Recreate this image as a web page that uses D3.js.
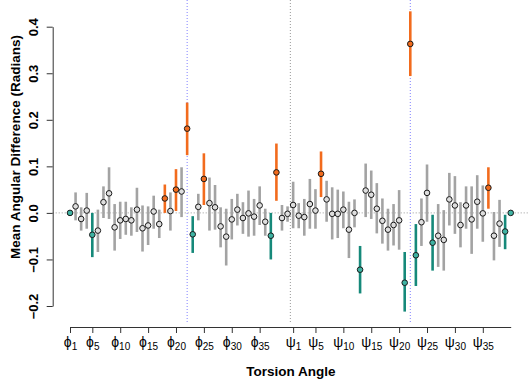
<!DOCTYPE html>
<html>
<head>
<meta charset="utf-8">
<script src="https://cdn.jsdelivr.net/npm/d3@7"></script>
<style>
  body { margin: 0; background: #fff; }
  svg text { font-family: "Liberation Sans", Arial, sans-serif; }
</style>
</head>
<body>
<svg id="chart" width="529" height="379"></svg>
<script>
// phi 1..40 then psi 1..40
const meanDiff = [
  0, 0.014, -0.013, 0.005, -0.047, -0.038, 0.023, 0.042, -0.031, -0.016,
  -0.013, -0.016, 0.007, -0.033, -0.027, 0.003, -0.024, 0.031, 0.004, 0.050,
  0.046, 0.181, -0.046, 0.013, 0.073, 0.021, 0.012, -0.029, -0.051, -0.014,
  0.007, -0.011, -0.001, -0.008, 0.016, -0.019, -0.049, 0.087, -0.011, -0.002,
  0.017, -0.006, -0.009, 0.019, 0.005, 0.084, 0.029, -0.002, -0.002, 0.007,
  -0.036, 0.000, -0.122, 0.048, 0.039, 0.009, -0.017, -0.036, -0.026, -0.016,
  -0.150, 0.363, -0.091, -0.020, 0.043, -0.064, -0.049, -0.058, 0.029, 0.016,
  -0.026, 0.016, -0.014, 0.024, -0.001, 0.054, -0.049, -0.023, -0.040, 0
];
const lowerCI = [
  0, -0.016, -0.038, -0.034, -0.095, -0.084, -0.011, -0.013, -0.081, -0.056,
  -0.047, -0.049, -0.041, -0.083, -0.069, -0.034, -0.054, 0.000, -0.038, 0.004,
  -0.009, 0.124, -0.086, -0.016, 0.017, -0.038, -0.036, -0.074, -0.113, -0.057,
  -0.027, -0.045, -0.051, -0.049, -0.026, -0.049, -0.100, 0.026, -0.038, -0.019,
  -0.033, -0.033, -0.049, -0.034, -0.034, 0.034, -0.019, -0.057, -0.054, -0.033,
  -0.097, -0.031, -0.173, -0.009, -0.013, -0.044, -0.066, -0.081, -0.070, -0.079,
  -0.212, 0.294, -0.157, -0.071, -0.019, -0.124, -0.116, -0.124, -0.027, -0.045,
  -0.074, -0.034, -0.088, -0.034, -0.062, 0.009, -0.102, -0.073, -0.078, 0
];
const upperCI = [
  0, 0.044, 0.012, 0.043, 0.000, 0.007, 0.057, 0.098, 0.019, 0.024,
  0.024, 0.012, 0.054, 0.016, 0.014, 0.037, 0.007, 0.061, 0.044, 0.094,
  0.098, 0.237, -0.007, 0.041, 0.128, 0.076, 0.060, 0.012, 0.009, 0.030,
  0.041, 0.023, 0.048, 0.030, 0.057, 0.009, 0.000, 0.149, 0.017, 0.014,
  0.067, 0.021, 0.030, 0.073, 0.051, 0.132, 0.069, 0.055, 0.050, 0.046,
  0.024, 0.029, -0.071, 0.106, 0.091, 0.064, 0.031, 0.009, 0.019, 0.049,
  -0.084, 0.433, -0.024, 0.031, 0.104, -0.004, 0.019, 0.006, 0.086, 0.079,
  0.023, 0.057, 0.057, 0.081, 0.059, 0.098, 0.002, 0.028, -0.004, 0
];
// g = no significant difference, o = higher, t = lower
const groupCode = [
  't','g','g','g','t','g','g','g','g','g','g','g','g','g','g','g','g','o','g','o',
  'g','o','t','g','o','g','g','g','g','g','g','g','g','g','g','g','t','o','g','g',
  'g','g','g','g','g','o','g','g','g','g','g','g','t','g','g','g','g','g','g','g',
  't','o','t','g','g','t','g','g','g','g','g','g','g','g','g','o','g','g','t','t'
];
const tickIndex = [1, 5, 10, 15, 20, 25, 30, 35, 41, 45, 50, 55, 60, 65, 70, 75];
const tickSymbol = ['\u03d5','\u03d5','\u03d5','\u03d5','\u03d5','\u03d5','\u03d5','\u03d5',
                    'ψ','ψ','ψ','ψ','ψ','ψ','ψ','ψ'];
const tickSub = ['1','5','10','15','20','25','30','35','1','5','10','15','20','25','30','35'];
const yTicks = [-0.2, -0.1, 0.0, 0.1, 0.2, 0.3, 0.4];
const markedAngles = [22, 62];
const splitAt = 40.5;

const barColor = {g: '#a3a3a3', o: '#f26b1d', t: '#16897a'};
const dotFill = {g: '#dedede', o: '#f26b1d', t: '#3fb3a3'};

const svg = d3.select('#chart');
const plotLeft = 52.7, plotRight = 529, plotTop = 0, plotBottom = 323;

const xScale = d3.scaleLinear().domain([1, 80]).range([70, 510.7]);
const yScale = d3.scaleLinear().domain([-0.2, 0.4]).range([306, 26.7]);

const data = meanDiff.map((m, i) => ({
  idx: i + 1, mean: m, lo: lowerCI[i], hi: upperCI[i], grp: groupCode[i]
}));

// reference lines
svg.append('line')
  .attr('x1', plotLeft).attr('x2', plotRight)
  .attr('y1', yScale(0)).attr('y2', yScale(0))
  .attr('stroke', '#999').attr('stroke-width', 1)
  .attr('stroke-dasharray', '1,2');

svg.append('line')
  .attr('x1', xScale(splitAt)).attr('x2', xScale(splitAt))
  .attr('y1', plotTop).attr('y2', plotBottom)
  .attr('stroke', '#999').attr('stroke-width', 1)
  .attr('stroke-dasharray', '1,2');

svg.selectAll('.mark-line').data(markedAngles)
  .enter().append('line')
  .attr('class', 'mark-line')
  .attr('x1', d => xScale(d)).attr('x2', d => xScale(d))
  .attr('y1', plotTop).attr('y2', plotBottom)
  .attr('stroke', '#8080ff').attr('stroke-width', 1)
  .attr('stroke-dasharray', '1,2');

// error bars
svg.selectAll('.bar').data(data.filter(d => d.hi !== d.lo))
  .enter().append('line')
  .attr('class', 'bar')
  .attr('x1', d => xScale(d.idx)).attr('x2', d => xScale(d.idx))
  .attr('y1', d => yScale(d.hi)).attr('y2', d => yScale(d.lo))
  .attr('stroke', d => barColor[d.grp])
  .attr('stroke-width', 2.6);

// points
svg.selectAll('.pt').data(data)
  .enter().append('circle')
  .attr('class', 'pt')
  .attr('cx', d => xScale(d.idx))
  .attr('cy', d => yScale(d.mean))
  .attr('r', 2.8)
  .attr('fill', d => dotFill[d.grp])
  .attr('stroke', '#1a1a1a')
  .attr('stroke-width', 1);

// y axis
const yAxisG = svg.append('g')
  .attr('transform', `translate(${plotLeft},0)`)
  .call(d3.axisLeft(yScale).tickValues(yTicks).tickSize(6).tickSizeOuter(0)
    .tickFormat(d3.format('.1f')));
yAxisG.select('.domain').attr('stroke', '#333');
yAxisG.selectAll('.tick line').attr('stroke', '#333');
yAxisG.selectAll('.tick text')
  .attr('transform', 'rotate(-90)')
  .attr('x', 0).attr('y', -15).attr('dy', 0)
  .attr('text-anchor', 'middle')
  .attr('font-size', 13).attr('font-weight', 'bold')
  .attr('fill', '#000')
  .text(d => d3.format('.1f')(d).replace('-', '\u2212'));

// x axis
const xAxisG = svg.append('g')
  .attr('transform', 'translate(0,327)')
  .call(d3.axisBottom(xScale).tickValues(tickIndex).tickSize(6).tickSizeOuter(0)
    .tickFormat(''));
xAxisG.select('.domain').attr('stroke', '#333');
xAxisG.selectAll('.tick line').attr('stroke', '#333');
xAxisG.selectAll('.tick').each(function(d, i) {
  const t = d3.select(this).append('text')
    .attr('y', 20).attr('fill', '#000')
    .attr('text-anchor', 'middle');
  t.append('tspan').attr('font-size', 14).text(tickSymbol[i]);
  t.append('tspan').attr('font-size', 10).attr('dy', 3).text(tickSub[i]);
});

// axis titles
svg.append('text')
  .attr('x', (plotLeft + plotRight) / 2).attr('y', 376)
  .attr('text-anchor', 'middle')
  .attr('font-size', 13.5).attr('font-weight', 'bold')
  .text('Torsion Angle');

svg.append('text')
  .attr('transform', 'translate(20,147) rotate(-90)')
  .attr('text-anchor', 'middle')
  .attr('font-size', 13.5).attr('font-weight', 'bold')
  .text('Mean Angular Difference (Radians)');
</script>
</body>
</html>
